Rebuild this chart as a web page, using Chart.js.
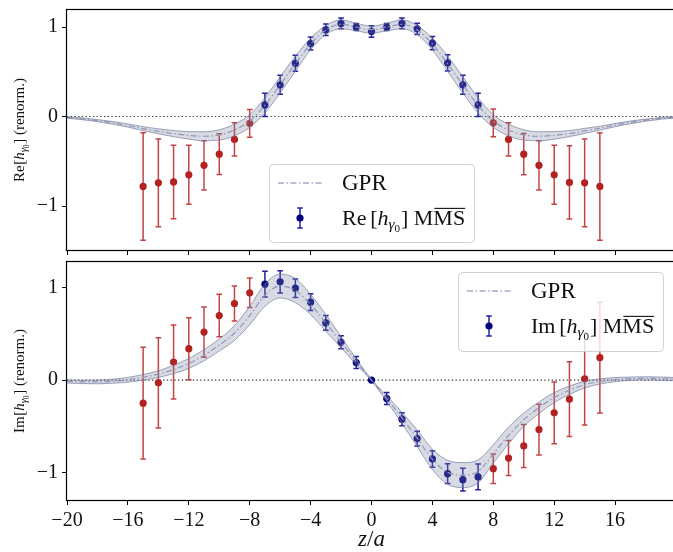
<!DOCTYPE html>
<html>
<head>
<meta charset="utf-8">
<script src="https://cdn.jsdelivr.net/npm/chart.js@4.4.1/dist/chart.umd.min.js"></script>
<style>
  html, body { margin: 0; padding: 0; background: #fff; overflow: hidden; }
  #wrap { position: relative; width: 673px; height: 552px; overflow: hidden; }
  canvas { position: absolute; left: 0; }
</style>
</head>
<body>
<div id="wrap">
  <canvas id="reChart" width="680" height="255" style="top:0;width:680px;height:255px"></canvas>
  <canvas id="imChart" width="680" height="297" style="top:255px;width:680px;height:297px"></canvas>
</div>
<script>
// lattice points z/a
const zPoints = [-15,-14,-13,-12,-11,-10,-9,-8,-7,-6,-5,-4,-3,-2,-1,0,1,2,3,4,5,6,7,8,9,10,11,12,13,14,15];
const reValues = [-0.78,-0.74,-0.73,-0.65,-0.545,-0.42,-0.255,-0.075,0.13,0.355,0.595,0.815,0.97,1.04,1.0,0.95,1.0,1.04,0.98,0.82,0.6,0.355,0.13,-0.07,-0.255,-0.42,-0.545,-0.65,-0.735,-0.74,-0.78];
const reErrors = [0.6,0.49,0.41,0.33,0.275,0.227,0.185,0.155,0.13,0.105,0.09,0.073,0.065,0.06,0.04,0.063,0.04,0.06,0.063,0.075,0.09,0.105,0.13,0.155,0.185,0.23,0.275,0.33,0.41,0.49,0.6];
const imValues = [-0.25,-0.03,0.196,0.34,0.52,0.7,0.83,0.946,1.04,1.065,0.996,0.845,0.62,0.41,0.19,0,-0.2,-0.424,-0.634,-0.855,-1.015,-1.08,-1.05,-0.96,-0.845,-0.714,-0.536,-0.355,-0.207,0.014,0.243];
const imErrors = [0.605,0.49,0.4,0.337,0.273,0.23,0.19,0.16,0.14,0.12,0.1,0.09,0.08,0.07,0.065,0.01,0.065,0.07,0.08,0.09,0.107,0.123,0.14,0.16,0.19,0.233,0.275,0.335,0.405,0.5,0.6];
const fitRange = 7; // |z| <= 7 is shown in blue, the rest in red

// GPR band
const gprZ = [-20,-19,-18,-17,-16,-15,-14,-13,-12,-11,-10,-9,-8,-7,-6,-5,-4,-3,-2,-1,0,1,2,3,4,5,6,7,8,9,10,11,12,13,14,15,16,17,18,19,20];
const reGprMean = [-0.01,-0.025,-0.045,-0.07,-0.1,-0.135,-0.165,-0.19,-0.21,-0.22,-0.205,-0.15,-0.05,0.125,0.354,0.59,0.81,0.966,1.03,1.0,0.97,1.0,1.03,0.966,0.81,0.59,0.354,0.125,-0.05,-0.15,-0.205,-0.22,-0.21,-0.19,-0.16,-0.13,-0.095,-0.065,-0.04,-0.02,-0.008];
const reGprErr = [0.008,0.01,0.012,0.015,0.018,0.022,0.028,0.034,0.042,0.05,0.058,0.065,0.07,0.085,0.09,0.085,0.065,0.05,0.05,0.042,0.04,0.042,0.05,0.05,0.065,0.085,0.09,0.085,0.07,0.065,0.058,0.05,0.042,0.034,0.028,0.022,0.018,0.015,0.012,0.01,0.008];
const imGprMean = [-0.015,-0.02,-0.02,-0.012,0.003,0.03,0.065,0.115,0.18,0.27,0.38,0.51,0.7,0.92,1.02,0.97,0.82,0.62,0.41,0.2,0,-0.2,-0.41,-0.63,-0.86,-1.0,-1.03,-0.99,-0.8,-0.6,-0.43,-0.3,-0.19,-0.11,-0.05,-0.015,0.005,0.015,0.018,0.015,0.01];
const imGprErr = [0.018,0.018,0.02,0.022,0.026,0.03,0.036,0.045,0.054,0.06,0.065,0.08,0.1,0.12,0.13,0.13,0.11,0.09,0.06,0.03,0.008,0.03,0.06,0.09,0.11,0.13,0.135,0.125,0.1,0.09,0.072,0.063,0.054,0.045,0.036,0.028,0.022,0.018,0.018,0.018,0.018];

const xTicks = [-20,-16,-12,-8,-4,0,4,8,12,16];
const yTicks = [-1,0,1];

const FONT = "'Liberation Serif', 'Times New Roman', serif";
const BLUE = "#00007f";
const BLUE_BAR = "rgba(10,10,150,0.9)";
const RED = "#b22222";
const RED_BAR = "rgba(185,35,35,0.85)";
const BAND_FILL = "rgba(125,132,165,0.3)";
const BAND_EDGE = "rgba(110,116,150,0.65)";
const MEAN_COLOR = "#9aa0bc";

// draws a list of text runs (roman/italic, sub/superscript shifts, overline)
function textRuns(ctx, runs, x, y, size, dry) {
  let cx = x;
  runs.forEach((r) => {
    const fs = size * (r.s || 1);
    ctx.font = (r.it ? "italic " : "") + fs + "px " + FONT;
    const w = ctx.measureText(r.t).width;
    const by = y + (r.dy || 0) * size;
    if (!dry) {
      ctx.fillText(r.t, cx, by);
      if (r.over) ctx.fillRect(cx + 1, by - fs * 0.78, w - 1, Math.max(1, size * 0.05));
    }
    cx += w + (r.sp || 0) * size;
  });
  return cx - x;
}

const hRuns = (prefix, gap) => [
  { t: prefix, sp: gap },
  { t: "[" },
  { t: "h", it: true },
  { t: "\u03b3", it: true, s: 0.7, dy: 0.2 },
  { t: "0", s: 0.5, dy: 0.34, sp: 0.04 },
  { t: "]" },
];

const fmtTick = (v) => (v < 0 ? "\u2212" + Math.abs(v) : String(v));

const panelPlugin = {
  id: "panel",
  beforeDatasetsDraw(chart) {
    const { ctx, chartArea: ca, scales } = chart;
    const y0 = scales.y.getPixelForValue(0);
    ctx.save();
    ctx.strokeStyle = "#333";
    ctx.lineWidth = 1.1;
    ctx.setLineDash([1.3, 2.4]);
    ctx.beginPath();
    ctx.moveTo(ca.left, y0);
    ctx.lineTo(ca.right, y0);
    ctx.stroke();
    ctx.restore();
  },
  beforeDatasetDraw(chart, args) {
    const ds = chart.data.datasets[args.index];
    if (!ds.errors) return;
    const { ctx, chartArea: ca, scales } = chart;
    ctx.save();
    ctx.beginPath();
    ctx.rect(ca.left, ca.top, ca.right - ca.left, ca.bottom - ca.top);
    ctx.clip();
    ctx.strokeStyle = ds.errorColor;
    ctx.lineWidth = 1.5;
    ds.data.forEach((d, i) => {
      const px = scales.x.getPixelForValue(d.x);
      const yt = scales.y.getPixelForValue(d.y + ds.errors[i]);
      const yb = scales.y.getPixelForValue(d.y - ds.errors[i]);
      ctx.beginPath();
      ctx.moveTo(px, yt); ctx.lineTo(px, yb);
      ctx.moveTo(px - 2.8, yt); ctx.lineTo(px + 2.8, yt);
      ctx.moveTo(px - 2.8, yb); ctx.lineTo(px + 2.8, yb);
      ctx.stroke();
    });
    ctx.restore();
  },
  afterDraw(chart, args, opts) {
    const { ctx, chartArea: ca } = chart;
    ctx.save();
    // frame
    ctx.strokeStyle = "#000";
    ctx.lineWidth = 1.2;
    ctx.strokeRect(Math.round(ca.left) - 0.5, Math.round(ca.top) - 0.5, ca.right - ca.left + 1, ca.bottom - ca.top + 1);

    // legend
    const L = opts.legend;
    ctx.fillStyle = "rgba(255,255,255,0.8)";
    ctx.strokeStyle = "rgba(204,204,204,0.9)";
    ctx.lineWidth = 1;
    ctx.beginPath();
    ctx.roundRect(L.x + 0.5, L.y + 0.5, L.w, L.h, 4);
    ctx.fill();
    ctx.stroke();

    ctx.strokeStyle = "#a5a9c4";
    ctx.lineWidth = 1.3;
    ctx.setLineDash([6, 2.5, 1.5, 2.5]);
    ctx.beginPath();
    ctx.moveTo(L.x + 9, L.y + 19);
    ctx.lineTo(L.x + 54, L.y + 19);
    ctx.stroke();
    ctx.setLineDash([]);

    const mx = L.x + 31, my = L.y + 54;
    ctx.strokeStyle = BLUE_BAR;
    ctx.lineWidth = 1.5;
    ctx.beginPath();
    ctx.moveTo(mx, my - 10); ctx.lineTo(mx, my + 10);
    ctx.moveTo(mx - 2.8, my - 10); ctx.lineTo(mx + 2.8, my - 10);
    ctx.moveTo(mx - 2.8, my + 10); ctx.lineTo(mx + 2.8, my + 10);
    ctx.stroke();
    ctx.fillStyle = BLUE;
    ctx.beginPath();
    ctx.arc(mx, my, 3.6, 0, Math.PI * 2);
    ctx.fill();

    ctx.fillStyle = "#111";
    ctx.textBaseline = "alphabetic";
    textRuns(ctx, [{ t: "GPR" }], L.x + 73, L.y + 26, 23);
    textRuns(ctx, hRuns(L.prefix, 0.17).concat([{ t: " M" }, { t: "MS", over: true }]), L.x + 73, L.y + 61, 22);

    // y axis title, rotated
    const T = hRuns(L.prefix, 0.03).concat([{ t: " (renorm.)" }]);
    const tw = textRuns(ctx, T, 0, 0, 15, true);
    ctx.translate(opts.titleX, (ca.top + ca.bottom) / 2);
    ctx.rotate(-Math.PI / 2);
    textRuns(ctx, T, -tw / 2, 0, 15);
    ctx.restore();

    if (opts.xTitle) {
      ctx.save();
      ctx.fillStyle = "#111";
      const X = [{ t: "z", it: true }, { t: "/" }, { t: "a", it: true }];
      const xw = textRuns(ctx, X, 0, 0, 23, true);
      textRuns(ctx, X, (ca.left + ca.right) / 2 - xw / 2, opts.xTitleY, 23);
      ctx.restore();
    }
  },
};

function buildDatasets(values, errors, mean, spread) {
  const pts = zPoints.map((z, i) => ({ x: z, y: values[i], e: errors[i] }));
  const inner = pts.filter((p) => Math.abs(p.x) <= fitRange);
  const outer = pts.filter((p) => Math.abs(p.x) > fitRange);
  const line = { showLine: true, pointRadius: 0, cubicInterpolationMode: "monotone" };
  return [
    { ...line, data: gprZ.map((z, i) => ({ x: z, y: mean[i] + spread[i] })), borderColor: BAND_EDGE, borderWidth: 1, fill: "+1", backgroundColor: BAND_FILL },
    { ...line, data: gprZ.map((z, i) => ({ x: z, y: mean[i] - spread[i] })), borderColor: BAND_EDGE, borderWidth: 1, fill: false },
    { ...line, data: gprZ.map((z, i) => ({ x: z, y: mean[i] })), borderColor: MEAN_COLOR, borderWidth: 1.2, borderDash: [6, 2.5, 1.5, 2.5], fill: false },
    { data: outer.map((p) => ({ x: p.x, y: p.y })), errors: outer.map((p) => p.e), errorColor: RED_BAR, pointRadius: 3.6, pointBackgroundColor: RED, pointBorderWidth: 0, showLine: false },
    { data: inner.map((p) => ({ x: p.x, y: p.y })), errors: inner.map((p) => p.e), errorColor: BLUE_BAR, pointRadius: 3.6, pointBackgroundColor: BLUE, pointBorderWidth: 0, showLine: false },
  ];
}

// keep the axes from reserving room for half tick labels
function noPad(s) {
  s.paddingTop = 0; s.paddingBottom = 0; s.paddingLeft = 0; s.paddingRight = 0;
}

function makePanel(id, datasets, yMin, yMax, cfg) {
  const tickFont = { family: FONT, size: 20 };
  return new Chart(document.getElementById(id).getContext("2d"), {
    type: "scatter",
    data: { datasets },
    plugins: [panelPlugin],
    options: {
      responsive: false,
      animation: false,
      events: [],
      layout: { padding: { left: 0, right: 3, top: cfg.padTop, bottom: 0 } },
      plugins: {
        legend: { display: false },
        tooltip: { enabled: false },
        panel: cfg.panel,
      },
      scales: {
        x: {
          type: "linear",
          min: -20,
          max: 20,
          afterBuildTicks: (s) => { s.ticks = xTicks.map((v) => ({ value: v })); },
          afterFit: (s) => { s.height = cfg.xHeight; noPad(s); },
          ticks: { display: cfg.xLabels, font: tickFont, color: "#111", padding: 4, maxRotation: 0, autoSkip: false, callback: fmtTick },
          grid: { drawOnChartArea: false, drawTicks: true, tickLength: 5, tickColor: "#000", tickWidth: 1 },
          border: { display: false },
        },
        y: {
          type: "linear",
          min: yMin,
          max: yMax,
          afterBuildTicks: (s) => { s.ticks = yTicks.map((v) => ({ value: v })); },
          afterFit: (s) => { s.width = 67; noPad(s); },
          ticks: { font: tickFont, color: "#111", padding: 4, callback: fmtTick },
          grid: { drawOnChartArea: false, drawTicks: true, tickLength: 5, tickColor: "#000", tickWidth: 1 },
          border: { display: false },
        },
      },
    },
  });
}

makePanel("reChart", buildDatasets(reValues, reErrors, reGprMean, reGprErr), -1.49, 1.19, {
  padTop: 10,
  xHeight: 5,
  xLabels: false,
  panel: { legend: { x: 269, y: 164, w: 205, h: 78, prefix: "Re" }, titleX: 24 },
});

makePanel("imChart", buildDatasets(imValues, imErrors, imGprMean, imGprErr), -1.3, 1.28, {
  padTop: 7,
  xHeight: 52,
  xLabels: true,
  panel: { legend: { x: 458, y: 17, w: 205, h: 79, prefix: "Im" }, titleX: 24, xTitle: true, xTitleY: 291 },
});
</script>
</body>
</html>
